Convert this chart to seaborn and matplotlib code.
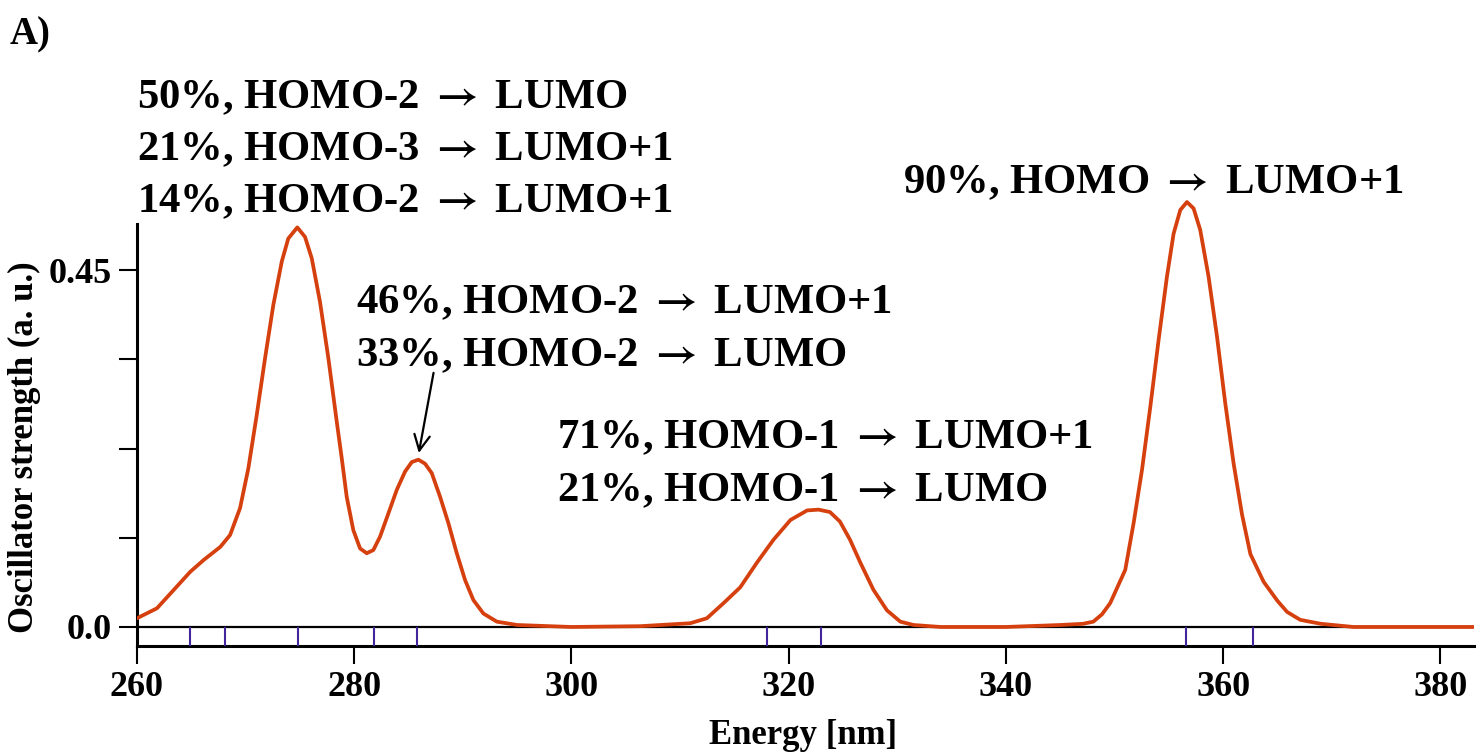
import matplotlib
matplotlib.use("Agg")
import matplotlib.pyplot as plt
import seaborn as sns

# Broadened spectrum (nm, oscillator strength)
curve_nm = [260.0, 261.84, 263.38, 264.91, 266.14, 267.67, 268.57, 269.49, 270.25,
            271.02, 271.79, 272.55, 273.33, 273.93, 274.76, 275.47, 276.09, 276.85,
            277.62, 278.39, 278.85, 279.31, 279.92, 280.54, 281.15, 281.76, 282.38,
            283.14, 283.92, 284.68, 285.30, 285.91, 286.52, 287.14, 287.91, 288.67,
            289.44, 290.21, 290.97, 291.89, 293.13, 295.0, 300.0,
            306.33, 310.93, 312.47, 314.0, 315.54, 317.07, 318.6, 320.17, 321.7,
            322.75, 323.8, 324.72, 325.65, 326.57, 327.8, 329.05, 330.28, 331.5,
            334.0, 340.0,
            345.0, 347.1, 348.05, 348.85, 349.6, 350.99, 351.76, 352.53, 353.30,
            354.06, 354.83, 355.44, 356.06, 356.67, 357.28, 357.89, 358.66, 359.44,
            360.20, 360.97, 361.74, 362.51, 363.73, 365.0, 365.89, 367.1, 369.0,
            372.0, 383.1]
curve_f = [0.011, 0.0236, 0.0467, 0.0697, 0.0845, 0.101, 0.116, 0.150, 0.200,
           0.267, 0.339, 0.406, 0.461, 0.490, 0.504, 0.492, 0.465, 0.410,
           0.339, 0.259, 0.213, 0.164, 0.122, 0.099, 0.093, 0.097, 0.114,
           0.143, 0.173, 0.196, 0.208, 0.211, 0.206, 0.194, 0.164, 0.131,
           0.093, 0.059, 0.034, 0.017, 0.0067, 0.0025, 0.0,
           0.001, 0.0047, 0.011, 0.030, 0.050, 0.081, 0.110, 0.135, 0.147,
           0.148, 0.145, 0.133, 0.110, 0.082, 0.047, 0.021, 0.0067, 0.0025,
           0.0, 0.0,
           0.0025, 0.004, 0.0067, 0.016, 0.030, 0.072, 0.131, 0.198, 0.278,
           0.362, 0.442, 0.496, 0.526, 0.536, 0.528, 0.501, 0.442, 0.366,
           0.282, 0.206, 0.142, 0.092, 0.057, 0.033, 0.019, 0.009, 0.004,
           0.0, 0.0]

# Excitation sticks
stick_nm = [264.9, 268.1, 274.85, 281.85, 285.8, 318.0, 322.97, 356.6, 362.75]

x_ticks = [260, 280, 300, 320, 340, 360, 380]
y_ticks = [0.0, 0.1125, 0.225, 0.3375, 0.45]
y_ticklabels = ["0.0", "", "", "", "0.45"]

ARROW = r"$\rightarrow$"
transitions_a = [f"50%, HOMO-2 {ARROW} LUMO", f"21%, HOMO-3 {ARROW} LUMO+1",
                 f"14%, HOMO-2 {ARROW} LUMO+1"]
transitions_b = [f"46%, HOMO-2 {ARROW} LUMO+1", f"33%, HOMO-2 {ARROW} LUMO"]
transitions_c = [f"71%, HOMO-1 {ARROW} LUMO+1", f"21%, HOMO-1 {ARROW} LUMO"]
transitions_d = [f"90%, HOMO {ARROW} LUMO+1"]

CURVE_COLOR = "#d5400e"
STICK_COLOR = "#42259a"

sns.set_theme(style="ticks")
plt.rcParams["font.family"] = ["Liberation Serif", "DejaVu Serif"]
plt.rcParams["font.weight"] = "bold"
plt.rcParams["mathtext.fontset"] = "stix"
for key in ("text.color", "axes.labelcolor", "xtick.color", "ytick.color",
            "axes.edgecolor"):
    plt.rcParams[key] = "black"

W, H = 1477, 753
fig = plt.figure(figsize=(W / 100, H / 100), dpi=100)
ax = fig.add_axes([137 / W, 1 - 646 / H, 1337 / W, 463 / H])

y_bottom, y_top = -0.024, 0.56

sns.lineplot(x=curve_nm, y=curve_f, ax=ax, color=CURVE_COLOR, linewidth=2.7,
             sort=False, estimator=None, zorder=4, solid_joinstyle="round")
ax.axhline(0, color="black", linewidth=1.6, zorder=2)
ax.vlines(stick_nm, y_bottom, 0, color=STICK_COLOR, linewidth=1.5, zorder=3)

ax.set_xlim(260, 383.1)
ax.set_ylim(y_bottom, y_top)
ax.set_xticks(x_ticks)
ax.set_yticks(y_ticks)
ax.set_yticklabels(y_ticklabels)
ax.tick_params(axis="both", direction="out", length=13, width=1.5, color="black",
               labelcolor="black", labelsize=26, pad=5)
for lab in ax.get_xticklabels() + ax.get_yticklabels():
    lab.set_fontweight("bold")

sns.despine(ax=ax)
ax.spines["left"].set_bounds(y_bottom, 0.508)
for side in ("left", "bottom"):
    ax.spines[side].set_linewidth(2.2)
    ax.spines[side].set_color("black")

ax.set_xlabel("Energy [nm]", fontsize=25, fontweight="bold")
ax.set_ylabel("Oscillator strength (a. u.)", fontsize=25, fontweight="bold")
ax.xaxis.set_label_coords(0.498, -0.158)
ax.yaxis.label.set_va("center")
ax.yaxis.set_label_coords(-0.0838, 0.43)


def put_block(lines, x_px, first_baseline_px, step=52):
    for i, line in enumerate(lines):
        fig.text(x_px / W, 1 - (first_baseline_px + i * step) / H, line,
                 fontsize=30.7, fontweight="bold", ha="left", va="baseline")


put_block(transitions_a, 137, 108)
put_block(transitions_b, 356, 313, step=53)
put_block(transitions_c, 557, 448, step=53)
put_block(transitions_d, 903, 193)

ax.annotate("", xy=(285.9, 0.216), xytext=(287.35, 0.324),
            arrowprops=dict(arrowstyle="->", color="black", lw=1.6,
                            mutation_scale=28))

fig.text(10 / W, 1 - 44 / H, "A)", fontsize=28, fontweight="bold",
         ha="left", va="baseline")

fig.savefig("out.png", dpi=100)
